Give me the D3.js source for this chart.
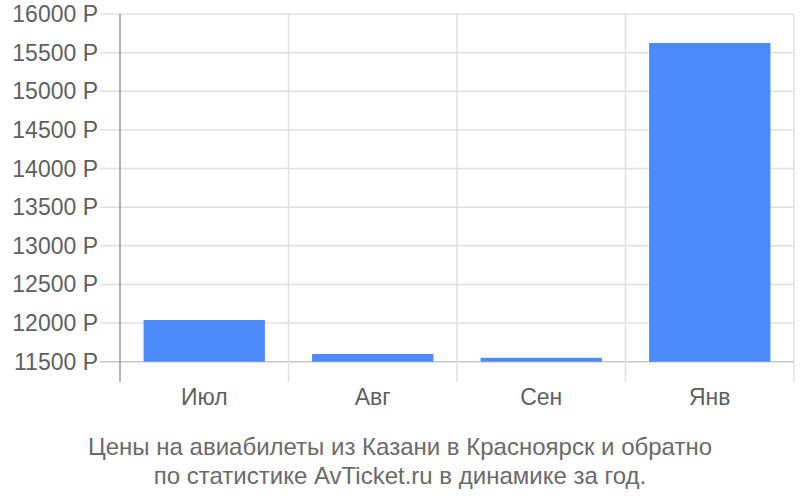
<!DOCTYPE html>
<html><head><meta charset="utf-8">
<script src="https://cdn.jsdelivr.net/npm/d3@7/dist/d3.min.js"></script>
<style>body{margin:0;background:#fff;font-family:"Liberation Sans",Arial,sans-serif;}</style>
</head><body><svg id="c" width="800" height="500"></svg>
<script>
const categories = ["Июл","Авг","Сен","Янв"];
const values = [12040, 11600, 11550, 15625];
const yTicks = [11500,12000,12500,13000,13500,14000,14500,15000,15500,16000];
const titleLines = ["Цены на авиабилеты из Казани в Красноярск и обратно","по статистике AvTicket.ru в динамике за год."];

const svg = d3.select("#c");
const L=120, R=794, T=14, B=361.7;
const x = d3.scaleBand().domain(categories).range([L,R]).paddingInner(0.28).paddingOuter(0.14);
const y = d3.scaleLinear().domain([11500,16000]).range([B,T]);

// horizontal grid
svg.append("g").selectAll("line").data(yTicks).join("line")
  .attr("x1",L-20).attr("x2",R).attr("y1",d=>y(d)).attr("y2",d=>y(d))
  .attr("stroke",d=>d===11500?"#c8c8c8":"#e0e0e0").attr("stroke-width",1.5);
// vertical grid
const bw = (R-L)/categories.length;
svg.append("g").selectAll("line").data(d3.range(1,categories.length+1)).join("line")
  .attr("x1",i=>L+i*bw).attr("x2",i=>L+i*bw).attr("y1",T).attr("y2",B+20)
  .attr("stroke","#e0e0e0").attr("stroke-width",1.5);
// bars
svg.append("g").selectAll("rect").data(values).join("rect")
  .attr("x",(d,i)=>x(categories[i])).attr("width",x.bandwidth())
  .attr("y",d=>y(d)).attr("height",d=>B-y(d)).attr("fill","#4d89f9");
// axis line
svg.append("line").attr("x1",L).attr("x2",L).attr("y1",T).attr("y2",B+20)
  .attr("stroke","#999").attr("stroke-width",1.5);
// y labels
svg.append("g").selectAll("text").data(yTicks).join("text")
  .attr("x",98).attr("y",d=>y(d)).attr("dy","0.35em").attr("text-anchor","end")
  .attr("font-size",23).attr("fill","#5f5f5f").text(d=>d+" Р");
// x labels
svg.append("g").selectAll("text").data(categories).join("text")
  .attr("x",d=>x(d)+x.bandwidth()/2).attr("y",405).attr("text-anchor","middle")
  .attr("font-size",23).attr("fill","#5f5f5f").text(d=>d);
// title
svg.append("g").selectAll("text").data(titleLines).join("text")
  .attr("x",400).attr("y",(d,i)=>455+i*29).attr("text-anchor","middle")
  .attr("font-size",24).attr("fill","#6a6a6a").text(d=>d);
</script></body></html>
